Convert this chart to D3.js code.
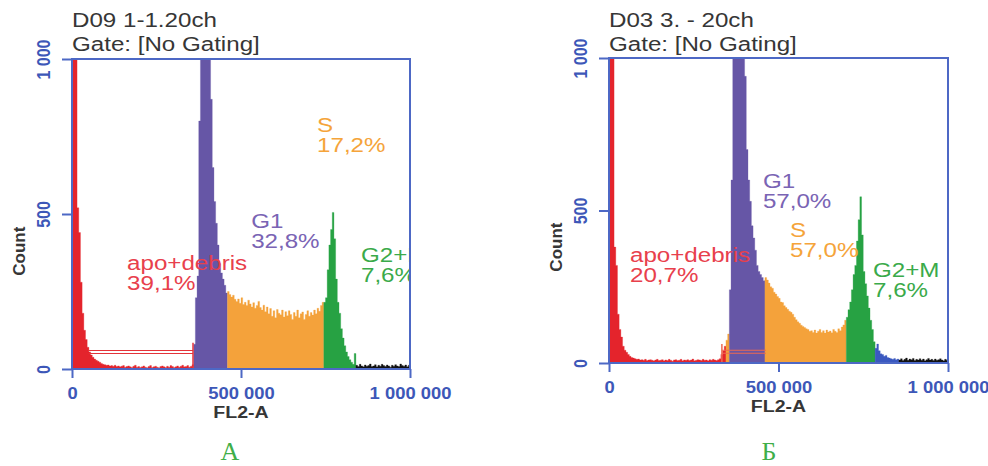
<!DOCTYPE html>
<html>
<head>
<meta charset="utf-8">
<script src="https://cdn.jsdelivr.net/npm/d3@7"></script>
<style>
  html, body { margin: 0; padding: 0; background: #fff; }
  svg { display: block; font-family: "Liberation Sans", Arial, sans-serif; }
</style>
</head>
<body>
<svg id="fig" width="988" height="466"></svg>
<script>
// ---- data -------------------------------------------------------------
// FL2-A channel width used for every histogram bin
const BIN = 5000;
const xTicks = [0, 500000, 1000000];
const yTicks = [0, 500, 1000];

const gateNames = ["apo+debris", "G1", "S", "G2+M"];
const panelLetters = ["А", "Б"];
const titlesA = ["D09 1-1.20ch", "Gate: [No Gating]"];
const titlesB = ["D03 3. - 20ch", "Gate: [No Gating]"];
const pctA = ["39,1%", "32,8%", "17,2%", "7,6%"];
const pctB = ["20,7%", "57,0%", "57,0%", "7,6%"];

// Panel А — counts per bin, gate by gate, from FL2-A = 0 upward
const aApo = [3000, 2200, 1200, 520, 440, 280, 180, 125, 95, 70,
              55, 45, 38, 32, 28, 25, 22, 18, 15, 14,
              12, 13, 10, 11, 9, 12, 8, 10, 7, 9,
              11, 6, 8, 10, 7, 5, 9, 12, 6, 8,
              5, 7, 10, 6, 4, 8, 11, 5, 7, 9,
              6, 4, 8, 10, 7, 5, 9, 6, 11, 8,
              5, 7, 10, 6, 9, 12, 7, 8, 11, 6,
              9, 14];
const aG1 = [80, 230, 300, 800, 1400, 2400, 2600, 2500, 2000, 1400,
             870, 650, 540, 470, 400, 340, 310, 290, 270, 245];
const aS = [250, 240, 232, 238, 225, 218, 226, 212, 230, 208,
            215, 205, 222, 210, 200, 214, 196, 205, 218, 198,
            190, 206, 185, 200, 178, 195, 170, 188, 165, 192,
            180, 175, 190, 168, 185, 172, 188, 176, 160, 182,
            170, 190, 165, 178, 184, 160, 176, 188, 170, 182,
            174, 190, 178, 196, 186, 205, 215];
const aG2M = [215, 230, 320, 400, 450, 505, 420, 290, 215, 180,
              130, 100, 75, 55, 40, 30, 22, 15, 50];
const aRest = [12, 8, 15, 10, 7, 13, 9, 11, 16, 8,
               10, 14, 7, 12, 9, 15, 11, 8, 13, 10,
               6, 12, 9, 14, 10, 8, 16, 11, 9, 13,
               7, 12];

// Panel Б
const bApo = [3000, 2000, 1100, 380, 320, 160, 110, 85, 55, 42,
              35, 28, 22, 18, 16, 14, 12, 13, 10, 11,
              9, 12, 8, 10, 11, 9, 7, 10, 12, 8,
              9, 11, 7, 10, 8, 12, 9, 6, 10, 11,
              8, 9, 12, 7, 10, 9, 11, 8, 10, 13,
              7, 9, 11, 10, 8, 12, 9, 10, 7, 11,
              9, 12, 10, 8, 11, 14, 28, 40, 55];
const bSLow = [75, 95];
const bG1 = [240, 600, 2000, 2500, 2500, 2200, 1800, 1300, 1050, 940,
             700, 600, 530, 450, 410, 370, 320, 300, 290, 280, 270];
const bS = [280, 272, 262, 250, 245, 232, 226, 218, 212, 200,
            198, 188, 182, 176, 170, 166, 160, 150, 142, 135,
            130, 124, 120, 116, 112, 110, 104, 106, 100, 108,
            98, 104, 110, 100, 106, 98, 108, 102, 105, 99,
            110, 104, 100, 112, 106, 118, 125, 140];
const bG2M = [150, 175, 200, 240, 290, 320, 400, 470, 545, 420,
              300, 260, 220, 180, 140, 110, 70];
const bTail = [48, 62, 40, 30, 28, 22, 25, 18, 16, 14, 12, 15, 11, 13];
const bRest = [10, 14, 8, 12, 16, 9, 13, 11, 15, 8,
               12, 10, 14, 9, 13, 7, 11, 15, 10, 12,
               8, 13, 9, 11, 14, 10, 7, 12, 9];

// ---- styles -----------------------------------------------------------
const C = {
  apo: "#e4242c", g1: "#6656a6", s: "#f4a23b", g2m: "#27a243",
  tail: "#3a58c0", rest: "#111111",
  frame: "#4d68c5", tickText: "#3d57b8", title: "#363636",
  lApo: "#e8404c", lG1: "#7a64b4", lS: "#f5a43a", lG2m: "#3aaa4a",
  letter: "#3fae49"
};
const SX = 1.15; // horizontal stretch of the printed lettering

const svg = d3.select("#fig");

function stretchedText(g, x, y, str, size, color, weight, anchor) {
  return g.append("text")
    .attr("transform", `translate(${x},${y}) scale(${SX},1)`)
    .attr("font-size", size)
    .attr("font-weight", weight || "normal")
    .attr("fill", color)
    .attr("text-anchor", anchor || "start")
    .text(str);
}

const fmt = v => d3.format(",")(v).replace(/,/g, " ");

function drawPanel(cfg, idx) {
  const x = d3.scaleLinear().domain([0, 1e6]).range(cfg.xr);
  const y = d3.scaleLinear().domain([0, 1000]).range(cfg.yr);
  const g = svg.append("g");
  const clipId = "clip" + idx;
  svg.append("clipPath").attr("id", clipId)
    .append("rect")
    .attr("x", x(0)).attr("y", y(1000))
    .attr("width", x(1e6) - x(0)).attr("height", y(0) - y(1000));

  const plot = g.append("g").attr("clip-path", `url(#${clipId})`);

  // histogram, one stepped area per gate
  const area = d3.area()
    .x(d => x(d.v)).y0(y(0)).y1(d => y(d.c))
    .curve(d3.curveStepAfter);
  let start = 0;
  cfg.segments.forEach(seg => {
    const pts = seg.counts.map((c, i) => ({ v: (start + i) * BIN, c }));
    pts.push({ v: (start + seg.counts.length) * BIN, c: seg.counts[seg.counts.length - 1] });
    plot.append("path").attr("d", area(pts)).attr("fill", seg.color)
      .attr("stroke", seg.color).attr("stroke-width", 0.3);
    start += seg.counts.length;
  });

  // marker bracket
  const br = cfg.bracket;
  const by = y(br.c);
  [-1.5, 1.5].forEach(off => {
    plot.append("line")
      .attr("x1", x(br.v0)).attr("x2", x(br.v1))
      .attr("y1", by + off).attr("y2", by + off)
      .attr("stroke", br.color).attr("stroke-width", 1.1);
  });
  plot.append("line")
    .attr("x1", x(br.tick)).attr("x2", x(br.tick))
    .attr("y1", y(0)).attr("y2", y(br.tickTop))
    .attr("stroke", br.color).attr("stroke-width", 1.5);

  // gate labels
  cfg.labels.forEach((lb, i) => {
    const lx = x(lb.v), ly = y(lb.c);
    stretchedText(plot, lx, ly, gateNames[i], 21, lb.color);
    stretchedText(plot, lx, ly + 20, cfg.pct[i], 21, lb.color);
  });

  // frame
  g.append("rect")
    .attr("x", x(0)).attr("y", y(1000))
    .attr("width", x(1e6) - x(0)).attr("height", y(0) - y(1000))
    .attr("fill", "none").attr("stroke", C.frame).attr("stroke-width", 2);

  // axes
  const xAxis = g.append("g").attr("transform", `translate(0,${y(0)})`)
    .call(d3.axisBottom(x).tickValues(xTicks).tickSize(9).tickFormat(fmt));
  xAxis.select(".domain").remove();
  xAxis.selectAll(".tick line").attr("stroke", C.frame).attr("stroke-width", 2);
  xAxis.selectAll(".tick text")
    .attr("y", null).attr("dy", null)
    .attr("transform", `translate(0,30) scale(${SX},1)`)
    .attr("font-size", 16).attr("font-weight", "bold")
    .attr("font-family", "'Liberation Sans', Arial, sans-serif")
    .attr("fill", C.tickText);

  const yAxis = g.append("g").attr("transform", `translate(${x(0)},0)`)
    .call(d3.axisLeft(y).tickValues(yTicks).tickSize(10).tickFormat(fmt));
  yAxis.select(".domain").remove();
  yAxis.selectAll(".tick line").attr("stroke", C.frame).attr("stroke-width", 2);
  yAxis.selectAll(".tick text")
    .attr("x", null).attr("dy", null)
    .attr("transform", `translate(-22,0) scale(${SX},1) rotate(-90)`)
    .attr("text-anchor", "middle")
    .attr("font-size", 16).attr("font-weight", "bold")
    .attr("font-family", "'Liberation Sans', Arial, sans-serif")
    .attr("fill", C.tickText);

  // axis titles
  stretchedText(g, (x(0) + x(1e6)) / 2, y(0) + 49, "FL2-A", 17, C.title, "bold", "middle");
  g.append("text")
    .attr("transform", `translate(${x(0) - 47},${y(1000) + 0.62 * (y(0) - y(1000))}) rotate(-90)`)
    .attr("text-anchor", "middle").attr("font-size", 17).attr("font-weight", "bold")
    .attr("fill", C.title).text("Count");

  // header
  stretchedText(g, x(0), 27, cfg.titles[0], 21, C.title);
  stretchedText(g, x(0), 51, cfg.titles[1], 21, C.title);

  // panel letter
  svg.append("text")
    .attr("x", cfg.letterX).attr("y", 460)
    .attr("text-anchor", "middle")
    .attr("font-family", "'Liberation Serif', 'Times New Roman', serif")
    .attr("font-size", 26).attr("fill", C.letter)
    .text(panelLetters[idx]);
}

drawPanel({
  xr: [72, 410], yr: [369, 59],
  titles: titlesA, pct: pctA, letterX: 230,
  segments: [
    { counts: aApo, color: C.apo },
    { counts: aG1, color: C.g1 },
    { counts: aS, color: C.s },
    { counts: aG2M, color: C.g2m },
    { counts: aRest, color: C.rest }
  ],
  bracket: { v0: 50000, v1: 358000, c: 55, tick: 358000, tickTop: 85, color: "#e4343a" },
  labels: [
    { v: 163000, c: 319, color: C.lApo },
    { v: 530000, c: 455, color: C.lG1 },
    { v: 725000, c: 765, color: C.lS },
    { v: 855000, c: 345, color: C.lG2m }
  ]
}, 0);

drawPanel({
  xr: [609, 948], yr: [363, 58],
  titles: titlesB, pct: pctB, letterX: 769,
  segments: [
    { counts: bApo, color: C.apo },
    { counts: bSLow, color: C.s },
    { counts: bG1, color: C.g1 },
    { counts: bS, color: C.s },
    { counts: bG2M, color: C.g2m },
    { counts: bTail, color: C.tail },
    { counts: bRest, color: C.rest }
  ],
  bracket: { v0: 333000, v1: 463000, c: 37, tick: 333000, tickTop: 62, color: "#ee6a50" },
  labels: [
    { v: 62000, c: 331, color: C.lApo },
    { v: 454000, c: 574, color: C.lG1 },
    { v: 534000, c: 413, color: C.lS },
    { v: 779000, c: 282, color: C.lG2m }
  ]
}, 1);
</script>
</body>
</html>
